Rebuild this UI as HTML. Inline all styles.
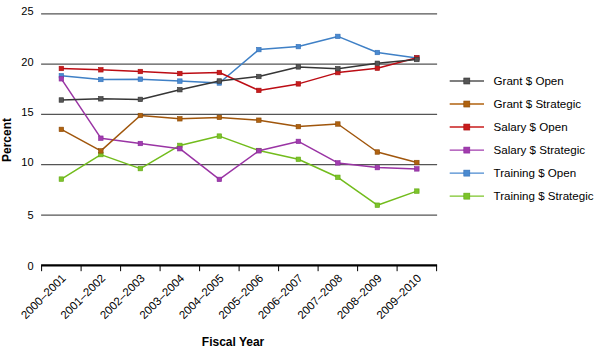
<!DOCTYPE html>
<html><head><meta charset="utf-8"><style>
html,body{margin:0;padding:0;background:#fff;width:595px;height:346px;overflow:hidden}
svg{display:block;font-family:"Liberation Sans",sans-serif}
</style></head><body>
<svg width="595" height="346" viewBox="0 0 595 346"><rect width="595" height="346" fill="#fff"/><line x1="41.1" y1="13.9" x2="437.1" y2="13.9" stroke="#555" stroke-width="1.3"/><line x1="41.1" y1="64.2" x2="437.1" y2="64.2" stroke="#555" stroke-width="1.3"/><line x1="41.1" y1="114.4" x2="437.1" y2="114.4" stroke="#555" stroke-width="1.3"/><line x1="41.1" y1="164.6" x2="437.1" y2="164.6" stroke="#555" stroke-width="1.3"/><line x1="41.1" y1="215.1" x2="437.1" y2="215.1" stroke="#555" stroke-width="1.3"/><line x1="41.1" y1="265.4" x2="437.1" y2="265.4" stroke="#000" stroke-width="2.2"/><line x1="41.60" y1="265.4" x2="41.60" y2="271.2" stroke="#000" stroke-width="1.0"/><line x1="81.10" y1="265.4" x2="81.10" y2="271.2" stroke="#000" stroke-width="1.0"/><line x1="120.60" y1="265.4" x2="120.60" y2="271.2" stroke="#000" stroke-width="1.0"/><line x1="160.10" y1="265.4" x2="160.10" y2="271.2" stroke="#000" stroke-width="1.0"/><line x1="199.60" y1="265.4" x2="199.60" y2="271.2" stroke="#000" stroke-width="1.0"/><line x1="239.10" y1="265.4" x2="239.10" y2="271.2" stroke="#000" stroke-width="1.0"/><line x1="278.60" y1="265.4" x2="278.60" y2="271.2" stroke="#000" stroke-width="1.0"/><line x1="318.10" y1="265.4" x2="318.10" y2="271.2" stroke="#000" stroke-width="1.0"/><line x1="357.60" y1="265.4" x2="357.60" y2="271.2" stroke="#000" stroke-width="1.0"/><line x1="397.10" y1="265.4" x2="397.10" y2="271.2" stroke="#000" stroke-width="1.0"/><line x1="436.60" y1="265.4" x2="436.60" y2="271.2" stroke="#000" stroke-width="1.0"/><text x="33.6" y="15.3" text-anchor="end" font-size="11" fill="#000">25</text><text x="33.6" y="65.7" text-anchor="end" font-size="11" fill="#000">20</text><text x="33.6" y="116.0" text-anchor="end" font-size="11" fill="#000">15</text><text x="33.6" y="166.1" text-anchor="end" font-size="11" fill="#000">10</text><text x="33.6" y="219.4" text-anchor="end" font-size="11" fill="#000">5</text><text x="33.6" y="269.6" text-anchor="end" font-size="11" fill="#000">0</text><text transform="translate(66.45,279.00) rotate(-45)" text-anchor="end" font-size="11.5" fill="#000">2000–2001</text><text transform="translate(105.95,279.00) rotate(-45)" text-anchor="end" font-size="11.5" fill="#000">2001–2002</text><text transform="translate(145.45,279.00) rotate(-45)" text-anchor="end" font-size="11.5" fill="#000">2002–2003</text><text transform="translate(184.95,279.00) rotate(-45)" text-anchor="end" font-size="11.5" fill="#000">2003–2004</text><text transform="translate(224.45,279.00) rotate(-45)" text-anchor="end" font-size="11.5" fill="#000">2004–2005</text><text transform="translate(263.95,279.00) rotate(-45)" text-anchor="end" font-size="11.5" fill="#000">2005–2006</text><text transform="translate(303.45,279.00) rotate(-45)" text-anchor="end" font-size="11.5" fill="#000">2006–2007</text><text transform="translate(342.95,279.00) rotate(-45)" text-anchor="end" font-size="11.5" fill="#000">2007–2008</text><text transform="translate(382.45,279.00) rotate(-45)" text-anchor="end" font-size="11.5" fill="#000">2008–2009</text><text transform="translate(421.95,279.00) rotate(-45)" text-anchor="end" font-size="11.5" fill="#000">2009–2010</text><text x="201.8" y="345.5" font-size="12" font-weight="bold" fill="#000">Fiscal Year</text><text transform="translate(10.5,140.0) rotate(-90)" text-anchor="middle" font-size="12" font-weight="bold" fill="#000">Percent</text><polyline points="61.35,179.10 100.85,154.60 140.35,168.60 179.85,145.40 219.35,136.10 258.85,150.50 298.35,159.30 337.85,177.30 377.35,205.20 416.85,191.10" fill="none" stroke="#72bc1c" stroke-width="1.5" stroke-linejoin="round"/><rect x="59.10" y="176.85" width="4.5" height="4.5" fill="#7cc42a" stroke="#62a812" stroke-width="0.6"/><rect x="98.60" y="152.35" width="4.5" height="4.5" fill="#7cc42a" stroke="#62a812" stroke-width="0.6"/><rect x="138.10" y="166.35" width="4.5" height="4.5" fill="#7cc42a" stroke="#62a812" stroke-width="0.6"/><rect x="177.60" y="143.15" width="4.5" height="4.5" fill="#7cc42a" stroke="#62a812" stroke-width="0.6"/><rect x="217.10" y="133.85" width="4.5" height="4.5" fill="#7cc42a" stroke="#62a812" stroke-width="0.6"/><rect x="256.60" y="148.25" width="4.5" height="4.5" fill="#7cc42a" stroke="#62a812" stroke-width="0.6"/><rect x="296.10" y="157.05" width="4.5" height="4.5" fill="#7cc42a" stroke="#62a812" stroke-width="0.6"/><rect x="335.60" y="175.05" width="4.5" height="4.5" fill="#7cc42a" stroke="#62a812" stroke-width="0.6"/><rect x="375.10" y="202.95" width="4.5" height="4.5" fill="#7cc42a" stroke="#62a812" stroke-width="0.6"/><rect x="414.60" y="188.85" width="4.5" height="4.5" fill="#7cc42a" stroke="#62a812" stroke-width="0.6"/><polyline points="61.35,75.70 100.85,79.50 140.35,79.20 179.85,81.10 219.35,83.00 258.85,49.60 298.35,46.60 337.85,36.40 377.35,52.50 416.85,58.00" fill="none" stroke="#3f80c6" stroke-width="1.5" stroke-linejoin="round"/><rect x="59.10" y="73.45" width="4.5" height="4.5" fill="#4a8ad0" stroke="#3470b8" stroke-width="0.6"/><rect x="98.60" y="77.25" width="4.5" height="4.5" fill="#4a8ad0" stroke="#3470b8" stroke-width="0.6"/><rect x="138.10" y="76.95" width="4.5" height="4.5" fill="#4a8ad0" stroke="#3470b8" stroke-width="0.6"/><rect x="177.60" y="78.85" width="4.5" height="4.5" fill="#4a8ad0" stroke="#3470b8" stroke-width="0.6"/><rect x="217.10" y="80.75" width="4.5" height="4.5" fill="#4a8ad0" stroke="#3470b8" stroke-width="0.6"/><rect x="256.60" y="47.35" width="4.5" height="4.5" fill="#4a8ad0" stroke="#3470b8" stroke-width="0.6"/><rect x="296.10" y="44.35" width="4.5" height="4.5" fill="#4a8ad0" stroke="#3470b8" stroke-width="0.6"/><rect x="335.60" y="34.15" width="4.5" height="4.5" fill="#4a8ad0" stroke="#3470b8" stroke-width="0.6"/><rect x="375.10" y="50.25" width="4.5" height="4.5" fill="#4a8ad0" stroke="#3470b8" stroke-width="0.6"/><rect x="414.60" y="55.75" width="4.5" height="4.5" fill="#4a8ad0" stroke="#3470b8" stroke-width="0.6"/><polyline points="61.35,78.80 100.85,138.20 140.35,143.50 179.85,148.70 219.35,179.40 258.85,150.80 298.35,141.40 337.85,162.90 377.35,167.60 416.85,168.90" fill="none" stroke="#9a34a4" stroke-width="1.5" stroke-linejoin="round"/><rect x="59.10" y="76.55" width="4.5" height="4.5" fill="#a23cae" stroke="#86289a" stroke-width="0.6"/><rect x="98.60" y="135.95" width="4.5" height="4.5" fill="#a23cae" stroke="#86289a" stroke-width="0.6"/><rect x="138.10" y="141.25" width="4.5" height="4.5" fill="#a23cae" stroke="#86289a" stroke-width="0.6"/><rect x="177.60" y="146.45" width="4.5" height="4.5" fill="#a23cae" stroke="#86289a" stroke-width="0.6"/><rect x="217.10" y="177.15" width="4.5" height="4.5" fill="#a23cae" stroke="#86289a" stroke-width="0.6"/><rect x="256.60" y="148.55" width="4.5" height="4.5" fill="#a23cae" stroke="#86289a" stroke-width="0.6"/><rect x="296.10" y="139.15" width="4.5" height="4.5" fill="#a23cae" stroke="#86289a" stroke-width="0.6"/><rect x="335.60" y="160.65" width="4.5" height="4.5" fill="#a23cae" stroke="#86289a" stroke-width="0.6"/><rect x="375.10" y="165.35" width="4.5" height="4.5" fill="#a23cae" stroke="#86289a" stroke-width="0.6"/><rect x="414.60" y="166.65" width="4.5" height="4.5" fill="#a23cae" stroke="#86289a" stroke-width="0.6"/><polyline points="61.35,68.50 100.85,69.80 140.35,71.50 179.85,73.50 219.35,72.50 258.85,90.40 298.35,83.90 337.85,72.60 377.35,68.20 416.85,57.80" fill="none" stroke="#bc0c14" stroke-width="1.5" stroke-linejoin="round"/><rect x="59.10" y="66.25" width="4.5" height="4.5" fill="#c81c1c" stroke="#a80c10" stroke-width="0.6"/><rect x="98.60" y="67.55" width="4.5" height="4.5" fill="#c81c1c" stroke="#a80c10" stroke-width="0.6"/><rect x="138.10" y="69.25" width="4.5" height="4.5" fill="#c81c1c" stroke="#a80c10" stroke-width="0.6"/><rect x="177.60" y="71.25" width="4.5" height="4.5" fill="#c81c1c" stroke="#a80c10" stroke-width="0.6"/><rect x="217.10" y="70.25" width="4.5" height="4.5" fill="#c81c1c" stroke="#a80c10" stroke-width="0.6"/><rect x="256.60" y="88.15" width="4.5" height="4.5" fill="#c81c1c" stroke="#a80c10" stroke-width="0.6"/><rect x="296.10" y="81.65" width="4.5" height="4.5" fill="#c81c1c" stroke="#a80c10" stroke-width="0.6"/><rect x="335.60" y="70.35" width="4.5" height="4.5" fill="#c81c1c" stroke="#a80c10" stroke-width="0.6"/><rect x="375.10" y="65.95" width="4.5" height="4.5" fill="#c81c1c" stroke="#a80c10" stroke-width="0.6"/><rect x="414.60" y="55.55" width="4.5" height="4.5" fill="#c81c1c" stroke="#a80c10" stroke-width="0.6"/><polyline points="61.35,129.40 100.85,150.90 140.35,115.50 179.85,118.80 219.35,117.40 258.85,120.20 298.35,126.60 337.85,124.00 377.35,152.00 416.85,162.50" fill="none" stroke="#a0560c" stroke-width="1.5" stroke-linejoin="round"/><rect x="59.10" y="127.15" width="4.5" height="4.5" fill="#b0620f" stroke="#8a4a08" stroke-width="0.6"/><rect x="98.60" y="148.65" width="4.5" height="4.5" fill="#b0620f" stroke="#8a4a08" stroke-width="0.6"/><rect x="138.10" y="113.25" width="4.5" height="4.5" fill="#b0620f" stroke="#8a4a08" stroke-width="0.6"/><rect x="177.60" y="116.55" width="4.5" height="4.5" fill="#b0620f" stroke="#8a4a08" stroke-width="0.6"/><rect x="217.10" y="115.15" width="4.5" height="4.5" fill="#b0620f" stroke="#8a4a08" stroke-width="0.6"/><rect x="256.60" y="117.95" width="4.5" height="4.5" fill="#b0620f" stroke="#8a4a08" stroke-width="0.6"/><rect x="296.10" y="124.35" width="4.5" height="4.5" fill="#b0620f" stroke="#8a4a08" stroke-width="0.6"/><rect x="335.60" y="121.75" width="4.5" height="4.5" fill="#b0620f" stroke="#8a4a08" stroke-width="0.6"/><rect x="375.10" y="149.75" width="4.5" height="4.5" fill="#b0620f" stroke="#8a4a08" stroke-width="0.6"/><rect x="414.60" y="160.25" width="4.5" height="4.5" fill="#b0620f" stroke="#8a4a08" stroke-width="0.6"/><polyline points="61.35,100.00 100.85,98.80 140.35,99.40 179.85,89.70 219.35,81.00 258.85,76.50 298.35,66.90 337.85,68.70 377.35,63.30 416.85,59.50" fill="none" stroke="#363636" stroke-width="1.5" stroke-linejoin="round"/><rect x="59.10" y="97.75" width="4.5" height="4.5" fill="#555555" stroke="#333333" stroke-width="0.6"/><rect x="98.60" y="96.55" width="4.5" height="4.5" fill="#555555" stroke="#333333" stroke-width="0.6"/><rect x="138.10" y="97.15" width="4.5" height="4.5" fill="#555555" stroke="#333333" stroke-width="0.6"/><rect x="177.60" y="87.45" width="4.5" height="4.5" fill="#555555" stroke="#333333" stroke-width="0.6"/><rect x="217.10" y="78.75" width="4.5" height="4.5" fill="#555555" stroke="#333333" stroke-width="0.6"/><rect x="256.60" y="74.25" width="4.5" height="4.5" fill="#555555" stroke="#333333" stroke-width="0.6"/><rect x="296.10" y="64.65" width="4.5" height="4.5" fill="#555555" stroke="#333333" stroke-width="0.6"/><rect x="335.60" y="66.45" width="4.5" height="4.5" fill="#555555" stroke="#333333" stroke-width="0.6"/><rect x="375.10" y="61.05" width="4.5" height="4.5" fill="#555555" stroke="#333333" stroke-width="0.6"/><rect x="414.60" y="57.25" width="4.5" height="4.5" fill="#555555" stroke="#333333" stroke-width="0.6"/><line x1="449.7" y1="81.00" x2="484" y2="81.00" stroke="#555555" stroke-width="1.4"/><rect x="463.80" y="78.00" width="6" height="6" fill="#555555" stroke="#333333" stroke-width="0.6"/><text x="493.5" y="85.30" font-size="11.6" fill="#000">Grant $ Open</text><line x1="449.7" y1="104.03" x2="484" y2="104.03" stroke="#b0620f" stroke-width="1.4"/><rect x="463.80" y="101.03" width="6" height="6" fill="#b0620f" stroke="#8a4a08" stroke-width="0.6"/><text x="493.5" y="108.33" font-size="11.6" fill="#000">Grant $ Strategic</text><line x1="449.7" y1="127.06" x2="484" y2="127.06" stroke="#c81c1c" stroke-width="1.4"/><rect x="463.80" y="124.06" width="6" height="6" fill="#c81c1c" stroke="#a80c10" stroke-width="0.6"/><text x="493.5" y="131.36" font-size="11.6" fill="#000">Salary $ Open</text><line x1="449.7" y1="150.09" x2="484" y2="150.09" stroke="#a23cae" stroke-width="1.4"/><rect x="463.80" y="147.09" width="6" height="6" fill="#a23cae" stroke="#86289a" stroke-width="0.6"/><text x="493.5" y="154.39" font-size="11.6" fill="#000">Salary $ Strategic</text><line x1="449.7" y1="173.12" x2="484" y2="173.12" stroke="#4a8ad0" stroke-width="1.4"/><rect x="463.80" y="170.12" width="6" height="6" fill="#4a8ad0" stroke="#3470b8" stroke-width="0.6"/><text x="493.5" y="177.42" font-size="11.6" fill="#000">Training $ Open</text><line x1="449.7" y1="196.15" x2="484" y2="196.15" stroke="#7cc42a" stroke-width="1.4"/><rect x="463.80" y="193.15" width="6" height="6" fill="#7cc42a" stroke="#62a812" stroke-width="0.6"/><text x="493.5" y="200.45" font-size="11.6" fill="#000">Training $ Strategic</text></svg>
</body></html>
